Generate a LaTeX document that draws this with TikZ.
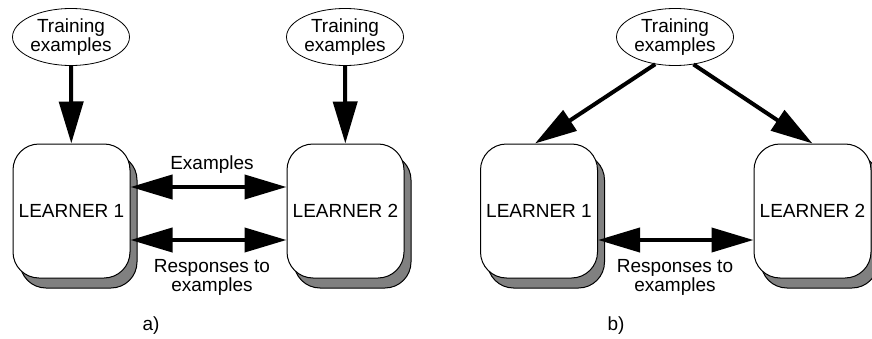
\documentclass[tikz,border=0pt]{standalone}
\usepackage{fontspec}
\setmainfont{Liberation Sans}
\usetikzlibrary{arrows.meta,shapes.geometric,shadows}
\begin{document}
\begin{tikzpicture}[x=1pt,y=1pt,font=\fontsize{19}{19}\selectfont,
  learner/.style={draw,line width=1pt,rounded corners=26pt,fill=white,minimum width=117pt,minimum height=134pt,inner sep=0pt,
    copy shadow={shadow xshift=7pt,shadow yshift=-10pt,fill=black!50,draw=black,line width=1pt}},
  source/.style={draw,ellipse,line width=0.8pt,minimum width=117pt,minimum height=57pt,inner sep=0pt,align=center},
  flow/.style={-{Triangle[length=42pt,width=24pt]},line width=4pt},
  swap/.style={{Triangle[length=42pt,width=24pt]}-{Triangle[length=42pt,width=24pt]},line width=4pt}]
\useasboundingbox (0,0) rectangle (872,338);
% a)
\node[source] (trA) at (71,301) {Training\\examples};
\node[source] (trB) at (345,301) {Training\\examples};
\node[learner] (la1) at (71.5,127) {LEARNER 1};
\node[learner] (la2) at (345.5,127) {LEARNER 2};
\draw[flow] (trA) -- (la1);
\draw[flow] (trB) -- (la2);
\draw[swap] ([yshift=24pt]la1.east) -- ([yshift=24pt]la2.west);
\draw[swap] ([yshift=-29pt]la1.east) -- ([yshift=-29pt]la2.west);
\node (ex) at (212,173) {Examples};
\node[align=center] (rsA) at (212,61) {Responses to\\examples};
\node (capA) at (151,12) {a)};
% b)
\node[source] (trC) at (675,301) {Training\\examples};
\node[learner] (lb1) at (539,127) {LEARNER 1};
\node[learner] (lb2) at (812.5,127) {LEARNER 2};
\draw[flow] (trC.234) -- ([xshift=-4pt]lb1.north);
\draw[flow] (trC.304) -- (lb2.north);
\draw[swap] ([yshift=-29pt]lb1.east) -- ([yshift=-29pt]lb2.west);
\node[align=center] (rsB) at (675,61) {Responses to\\examples};
\node (capB) at (616,12) {b)};
\end{tikzpicture}
\end{document}
